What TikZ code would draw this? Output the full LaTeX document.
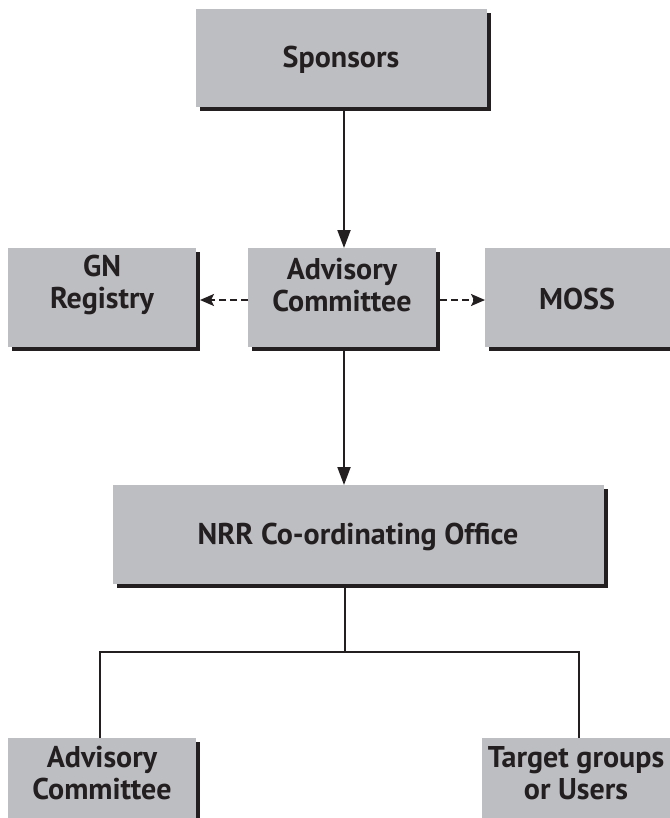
\documentclass[tikz,border=0pt]{standalone}
\usepackage{fontspec}
\setmainfont{PT Sans}
\usetikzlibrary{arrows.meta}
\definecolor{boxgray}{RGB}{189,190,194}
\definecolor{shadowblk}{RGB}{35,31,32}
\tikzset{
  boxtext/.style={font=\bfseries\fontsize{30}{32}\selectfont, align=center, text=shadowblk},
  conn/.style={draw=shadowblk, line width=2pt},
  solidarrow/.style={conn, -{Triangle[length=18pt,width=13pt]}},
  dasharrow/.style={conn, dash pattern=on 7pt off 4pt, -{Stealth[length=14pt,width=12pt,inset=3pt]}}
}
\newcommand{\shbox}[5]{% name, x1, y1, x2, y2
  \fill[shadowblk] (#2+4,#3+4) rectangle (#4+4,#5+4);
  \fill[boxgray] (#2,#3) rectangle (#4,#5);
  \coordinate (#1-nw) at (#2,#3);
  \coordinate (#1-se) at (#4,#5);
}
\begin{document}
\begin{tikzpicture}[x=1pt,y=-1pt]
\useasboundingbox (0,0) rectangle (669,818);
\shbox{sp}{196}{9}{487}{107}
\shbox{gn}{8}{248}{196}{347}
\shbox{ac}{248}{248}{436}{347}
\shbox{moss}{485}{248}{675}{347}
\shbox{nrr}{113}{485}{604}{584}
\shbox{ac2}{8}{738}{196}{830}
\shbox{tg}{482}{738}{675}{830}
\node[boxtext] (spt) at (341,60) {Sponsors};
\node[boxtext] (gnt) at (102,285) {GN\\Registry};
\node[boxtext] (act) at (342,285) {Advisory\\Committee};
\node[boxtext] (mosst) at (577,299) {MOSS};
\node[boxtext] (nrrt) at (358,537) {NRR Co-ordinating Office};
\node[boxtext] (ac2t) at (102,773) {Advisory\\Committee};
\node[boxtext] (tgt) at (576,773) {Target groups\\or Users};
% connectors
\coordinate (spb) at (344,111);
\coordinate (actop) at (344,248);
\coordinate (acb) at (344,351);
\coordinate (nrrtop) at (344,485);
\draw[solidarrow] (spb) -- (actop);
\draw[solidarrow] (acb) -- (nrrtop);
\coordinate (acl) at (248,300);
\coordinate (gnr) at (200,300);
\coordinate (acr) at (440,300);
\coordinate (mossl) at (485,300);
\draw[dasharrow] (acl) -- (gnr);
\draw[dasharrow] (acr) -- (mossl);
\coordinate (nrrb) at (345,588);
\coordinate (junc) at (345,652);
\coordinate (jl) at (100,652);
\coordinate (jr) at (579,652);
\coordinate (ac2top) at (100,738);
\coordinate (tgtop) at (579,738);
\draw[conn] (nrrb) -- (junc);
\draw[conn] (ac2top) -- (jl) -- (jr) -- (tgtop);
\end{tikzpicture}
\end{document}
